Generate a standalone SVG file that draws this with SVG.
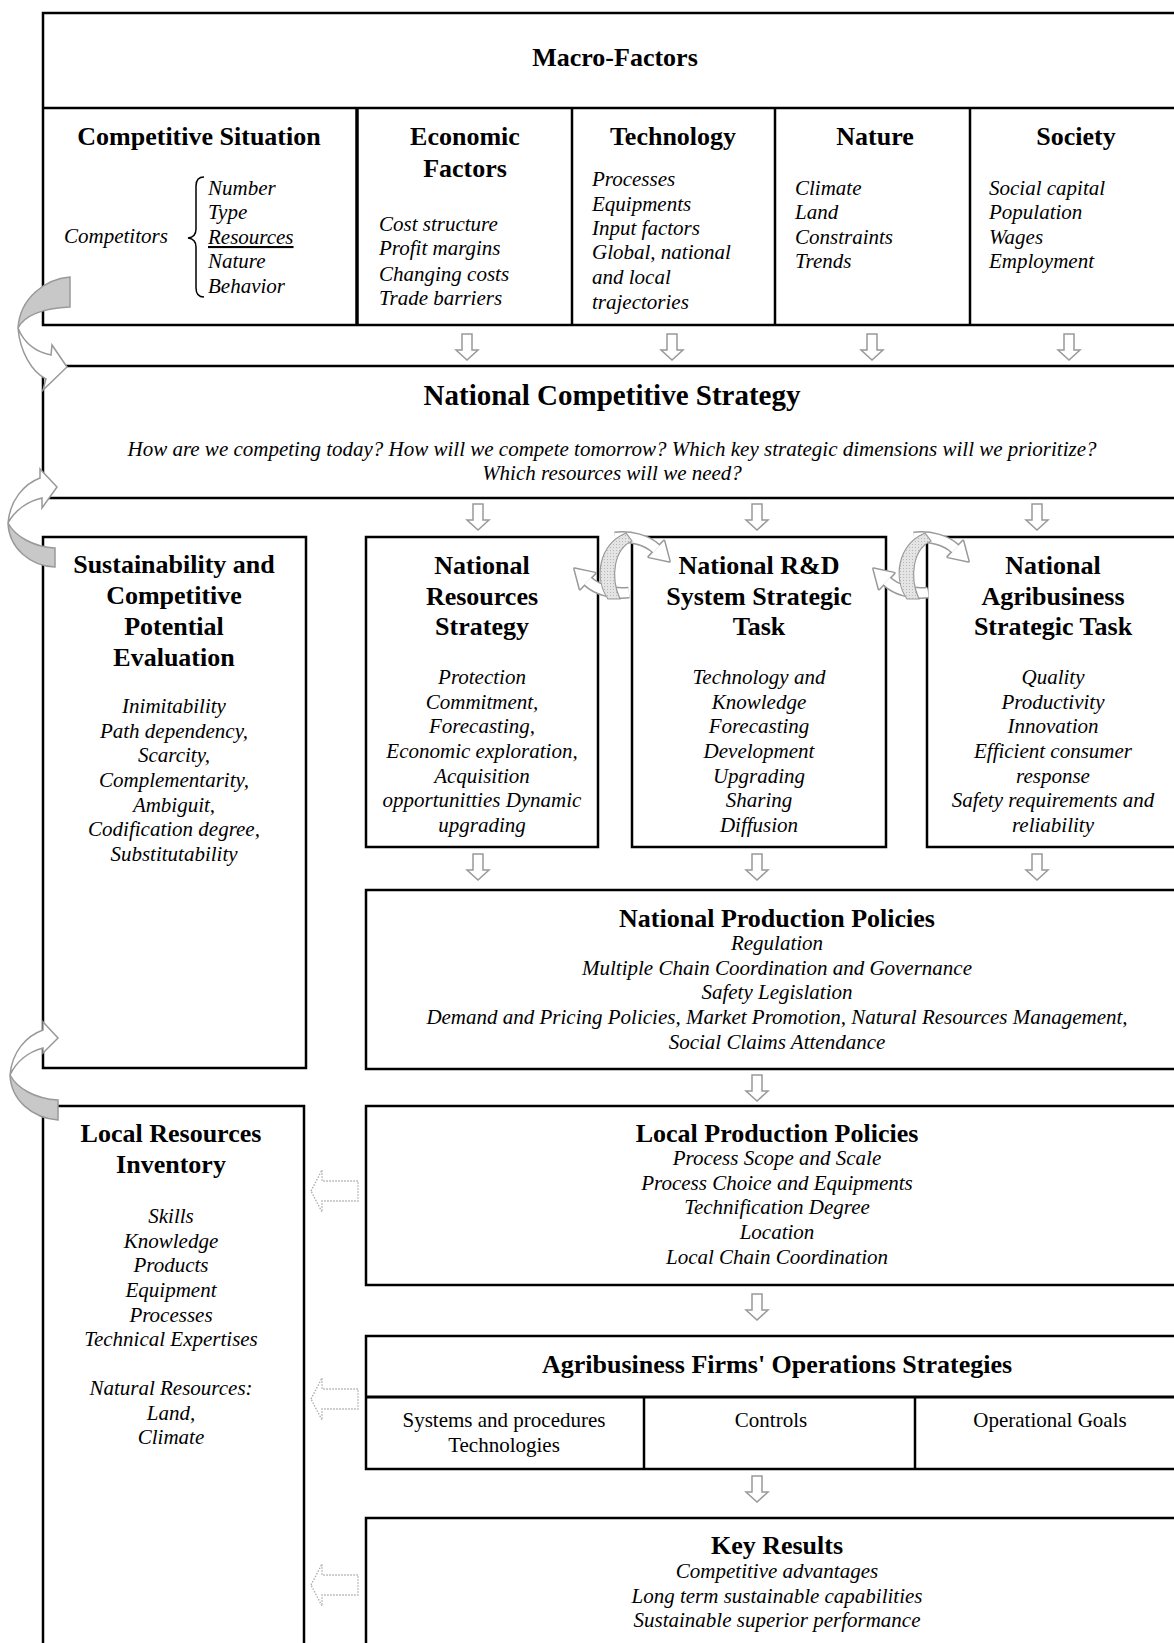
<svg xmlns="http://www.w3.org/2000/svg" xmlns:xlink="http://www.w3.org/1999/xlink" width="1174" height="1643" viewBox="0 0 1174 1643">
<style>
text{font-family:"Liberation Serif","Times New Roman",serif;fill:#000}
.h{font-weight:bold;font-size:26px;text-anchor:middle}
.i{font-style:italic;font-size:21px}
.ic{font-style:italic;font-size:21px;text-anchor:middle}
.r{font-size:21px;text-anchor:middle}
.box{fill:#fff;stroke:#000;stroke-width:2.5}
.ln{stroke:#000;stroke-width:2.5;fill:none}
.dn{fill:#fff;stroke:#999;stroke-width:1.5}
.dot{fill:#fff;stroke:#aaa;stroke-width:1.3;stroke-dasharray:1.5 1.5}
.cg{fill:#c8c8c8;stroke:#999;stroke-width:1.5}
.cw{fill:#fff;stroke:#999;stroke-width:1.5}
</style>
<defs>
<path id="dn" class="dn" d="M -5,0 H 5 V 16 H 11 L 0,26 L -11,16 H -5 Z"/>
<path id="lt" class="dot" d="M 0,0 L 11,-21 V -10 H 47 V 10 H 11 V 21 Z"/>
<pattern id="dots" width="3" height="3" patternUnits="userSpaceOnUse">
<rect width="3" height="3" fill="#e4e4e4"/>
<rect width="1" height="1" fill="#b8b8b8"/>
</pattern>
<g id="cycle">
<path d="M -7,-27.6 A 42 28 0 0 1 34.4,-16.1" fill="none" stroke="#999" stroke-width="12"/>
<path d="M 7,27.6 A 42 28 0 0 1 -34.4,16.1" fill="none" stroke="#999" stroke-width="12"/>
<polygon points="47.4,-3.7 42,-24 26.8,-8.1" fill="#999" stroke="#999" stroke-width="3" stroke-linejoin="round"/>
<polygon points="-47.4,3.7 -42,24 -26.8,8.1" fill="#999" stroke="#999" stroke-width="3" stroke-linejoin="round"/>
<path d="M -7,-27.6 A 42 28 0 0 1 34.4,-16.1" fill="none" stroke="#fff" stroke-width="9"/>
<path d="M 7,27.6 A 42 28 0 0 1 -34.4,16.1" fill="none" stroke="#fff" stroke-width="9"/>
<polygon points="47.4,-3.7 42,-24 26.8,-8.1" fill="#fff"/>
<polygon points="-47.4,3.7 -42,24 -26.8,8.1" fill="#fff"/>
<path d="M -14,34 C -28,14 -24,-20 4,-32 L 10,-24 C -8,-16 -12,12 -2,34 Z" fill="url(#dots)" stroke="#999" stroke-width="1.2"/>
</g>
</defs>

<g id="macro-factors">
<rect class="box" x="43" y="13" width="1160" height="312"/>
<line class="ln" x1="43" y1="108" x2="1174" y2="108"/>
<text class="h" x="615" y="66">Macro-Factors</text>
</g>

<g id="competitive-situation">
<line x1="357" y1="108" x2="357" y2="325" stroke="#000" stroke-width="3.5"/>
<text class="h" x="199" y="145">Competitive Situation</text>
<text class="i" x="64" y="243">Competitors</text>
<path d="M 204,177 Q 196,177 196,186 L 196,229 Q 196,237 188,238 Q 196,239 196,247 L 196,288 Q 196,297 204,297" fill="none" stroke="#000" stroke-width="1.5"/>
<text class="i" x="208" y="195">Number</text>
<text class="i" x="208" y="219">Type</text>
<text class="i" x="208" y="244" text-decoration="underline">Resources</text>
<text class="i" x="208" y="268">Nature</text>
<text class="i" x="208" y="293">Behavior</text>
</g>

<g id="economic-factors">
<line class="ln" x1="572" y1="108" x2="572" y2="325"/>
<text class="h" x="465" y="145">Economic</text>
<text class="h" x="465" y="177">Factors</text>
<text class="i" x="379" y="231">Cost structure</text>
<text class="i" x="379" y="255">Profit margins</text>
<text class="i" x="379" y="281">Changing  costs</text>
<text class="i" x="379" y="305">Trade barriers</text>
</g>

<g id="technology">
<line class="ln" x1="775" y1="108" x2="775" y2="325"/>
<text class="h" x="673" y="145">Technology</text>
<text class="i" x="592" y="186">Processes</text>
<text class="i" x="592" y="211">Equipments</text>
<text class="i" x="592" y="235">Input factors</text>
<text class="i" x="592" y="259">Global, national</text>
<text class="i" x="592" y="284">and local</text>
<text class="i" x="592" y="309">trajectories</text>
</g>

<g id="nature">
<line class="ln" x1="970" y1="108" x2="970" y2="325"/>
<text class="h" x="875" y="145">Nature</text>
<text class="i" x="795" y="195">Climate</text>
<text class="i" x="795" y="219">Land</text>
<text class="i" x="795" y="244">Constraints</text>
<text class="i" x="795" y="268">Trends</text>
</g>

<g id="society">
<text class="h" x="1076" y="145">Society</text>
<text class="i" x="989" y="195">Social capital</text>
<text class="i" x="989" y="219">Population</text>
<text class="i" x="989" y="244">Wages</text>
<text class="i" x="989" y="268">Employment</text>
</g>

<g id="national-competitive-strategy">
<rect class="box" x="43" y="366" width="1160" height="132"/>
<text class="h" x="612" y="405" style="font-size:29px">National Competitive Strategy</text>
<text class="ic" x="612" y="456">How are we competing today? How will we compete tomorrow? Which key strategic dimensions will we prioritize?</text>
<text class="ic" x="612" y="480">Which resources will we need?</text>
</g>

<g id="sustainability-evaluation">
<rect class="box" x="43" y="537" width="263" height="531"/>
<text class="h" x="174" y="573">Sustainability and</text>
<text class="h" x="174" y="604">Competitive</text>
<text class="h" x="174" y="635">Potential</text>
<text class="h" x="174" y="666">Evaluation</text>
<text class="ic" x="174" y="713">Inimitability</text>
<text class="ic" x="174" y="738">Path dependency,</text>
<text class="ic" x="174" y="762">Scarcity,</text>
<text class="ic" x="174" y="787">Complementarity,</text>
<text class="ic" x="174" y="812">Ambiguit,</text>
<text class="ic" x="174" y="836">Codification degree,</text>
<text class="ic" x="174" y="861">Substitutability</text>
</g>

<g id="national-resources-strategy">
<rect class="box" x="366" y="537" width="232" height="310"/>
<text class="h" x="482" y="574">National</text>
<text class="h" x="482" y="605">Resources</text>
<text class="h" x="482" y="635">Strategy</text>
<text class="ic" x="482" y="684">Protection</text>
<text class="ic" x="482" y="709">Commitment,</text>
<text class="ic" x="482" y="733">Forecasting,</text>
<text class="ic" x="482" y="758">Economic exploration,</text>
<text class="ic" x="482" y="783">Acquisition</text>
<text class="ic" x="482" y="807">opportunitties Dynamic</text>
<text class="ic" x="482" y="832">upgrading</text>
</g>

<g id="national-rd-task">
<rect class="box" x="632" y="537" width="254" height="310"/>
<text class="h" x="759" y="574">National R&amp;D</text>
<text class="h" x="759" y="605">System Strategic</text>
<text class="h" x="759" y="635">Task</text>
<text class="ic" x="759" y="684">Technology and</text>
<text class="ic" x="759" y="709">Knowledge</text>
<text class="ic" x="759" y="733">Forecasting</text>
<text class="ic" x="759" y="758">Development</text>
<text class="ic" x="759" y="783">Upgrading</text>
<text class="ic" x="759" y="807">Sharing</text>
<text class="ic" x="759" y="832">Diffusion</text>
</g>

<g id="national-agribusiness-task">
<rect class="box" x="927" y="537" width="276" height="310"/>
<text class="h" x="1053" y="574">National</text>
<text class="h" x="1053" y="605">Agribusiness</text>
<text class="h" x="1053" y="635">Strategic Task</text>
<text class="ic" x="1053" y="684">Quality</text>
<text class="ic" x="1053" y="709">Productivity</text>
<text class="ic" x="1053" y="733">Innovation</text>
<text class="ic" x="1053" y="758">Efficient consumer</text>
<text class="ic" x="1053" y="783">response</text>
<text class="ic" x="1053" y="807">Safety requirements and</text>
<text class="ic" x="1053" y="832">reliability</text>
</g>

<g id="national-production-policies">
<rect class="box" x="366" y="890" width="837" height="179"/>
<text class="h" x="777" y="927">National Production Policies</text>
<text class="ic" x="777" y="950">Regulation</text>
<text class="ic" x="777" y="975">Multiple Chain Coordination and Governance</text>
<text class="ic" x="777" y="999">Safety Legislation</text>
<text class="ic" x="777" y="1024">Demand and Pricing Policies, Market Promotion, Natural Resources Management,</text>
<text class="ic" x="777" y="1049">Social Claims Attendance</text>
</g>

<g id="local-resources-inventory">
<rect class="box" x="43" y="1106" width="261" height="560"/>
<text class="h" x="171" y="1142">Local Resources</text>
<text class="h" x="171" y="1173">Inventory</text>
<text class="ic" x="171" y="1223">Skills</text>
<text class="ic" x="171" y="1248">Knowledge</text>
<text class="ic" x="171" y="1272">Products</text>
<text class="ic" x="171" y="1297">Equipment</text>
<text class="ic" x="171" y="1322">Processes</text>
<text class="ic" x="171" y="1346">Technical Expertises</text>
<text class="ic" x="171" y="1395">Natural Resources:</text>
<text class="ic" x="171" y="1420">Land,</text>
<text class="ic" x="171" y="1444">Climate</text>
</g>

<g id="local-production-policies">
<rect class="box" x="366" y="1106" width="837" height="179"/>
<text class="h" x="777" y="1142">Local Production Policies</text>
<text class="ic" x="777" y="1165">Process Scope and Scale</text>
<text class="ic" x="777" y="1190">Process Choice and Equipments</text>
<text class="ic" x="777" y="1214">Technification Degree</text>
<text class="ic" x="777" y="1239">Location</text>
<text class="ic" x="777" y="1264">Local Chain Coordination</text>
</g>

<g id="operations-strategies">
<rect class="box" x="366" y="1336" width="837" height="133"/>
<line x1="366" y1="1397" x2="1174" y2="1397" stroke="#000" stroke-width="3"/>
<line class="ln" x1="644" y1="1397" x2="644" y2="1469"/>
<line class="ln" x1="915" y1="1397" x2="915" y2="1469"/>
<text class="h" x="777" y="1373">Agribusiness Firms' Operations Strategies</text>
<text class="r" x="504" y="1427">Systems and procedures</text>
<text class="r" x="504" y="1452">Technologies</text>
<text class="r" x="771" y="1427">Controls</text>
<text class="r" x="1050" y="1427">Operational Goals</text>
</g>

<g id="key-results">
<rect class="box" x="366" y="1518" width="837" height="160"/>
<text class="h" x="777" y="1554">Key Results</text>
<text class="ic" x="777" y="1578">Competitive advantages</text>
<text class="ic" x="777" y="1603">Long term sustainable capabilities</text>
<text class="ic" x="777" y="1627">Sustainable superior performance</text>
</g>

<g id="connectors">
<use href="#dn" x="467" y="334"/>
<use href="#dn" x="672" y="334"/>
<use href="#dn" x="872" y="334"/>
<use href="#dn" x="1069" y="334"/>
<use href="#dn" x="478" y="504"/>
<use href="#dn" x="757" y="504"/>
<use href="#dn" x="1037" y="504"/>
<use href="#dn" x="478" y="854"/>
<use href="#dn" x="757" y="854"/>
<use href="#dn" x="1037" y="854"/>
<use href="#dn" x="757" y="1075"/>
<use href="#dn" x="757" y="1294"/>
<use href="#dn" x="757" y="1476"/>
<use href="#lt" x="311" y="1191"/>
<use href="#lt" x="311" y="1399"/>
<use href="#lt" x="311" y="1585"/>
<use href="#cycle" x="622" y="565"/>
<use href="#cycle" x="921" y="565"/>
<path class="cg" d="M 70,277 C 45,279 20,298 18,328 C 24,316 42,308 70,307 Z"/>
<path class="cw" d="M 18,328 C 20,352 32,372 46,379 L 43,390 L 67,367 L 52,345 L 51,355 C 36,352 24,343 18,328 Z"/>
<path class="cw" d="M 8,523 C 10,500 24,484 40,478 L 40,469 L 57,487 L 42,508 L 42,498 C 28,501 15,510 8,523 Z"/>
<path class="cg" d="M 8,523 C 9,548 30,566 55,567 L 55,548 C 33,547 15,536 8,523 Z"/>
<path class="cw" d="M 10,1075 C 12,1052 26,1036 43,1030 L 43,1022 L 58,1038 L 43,1053 L 43,1048 C 28,1052 16,1062 10,1075 Z"/>
<path class="cg" d="M 10,1075 C 11,1100 32,1118 58,1120 L 58,1100 C 35,1099 17,1088 10,1075 Z"/>
</g>
</svg>
